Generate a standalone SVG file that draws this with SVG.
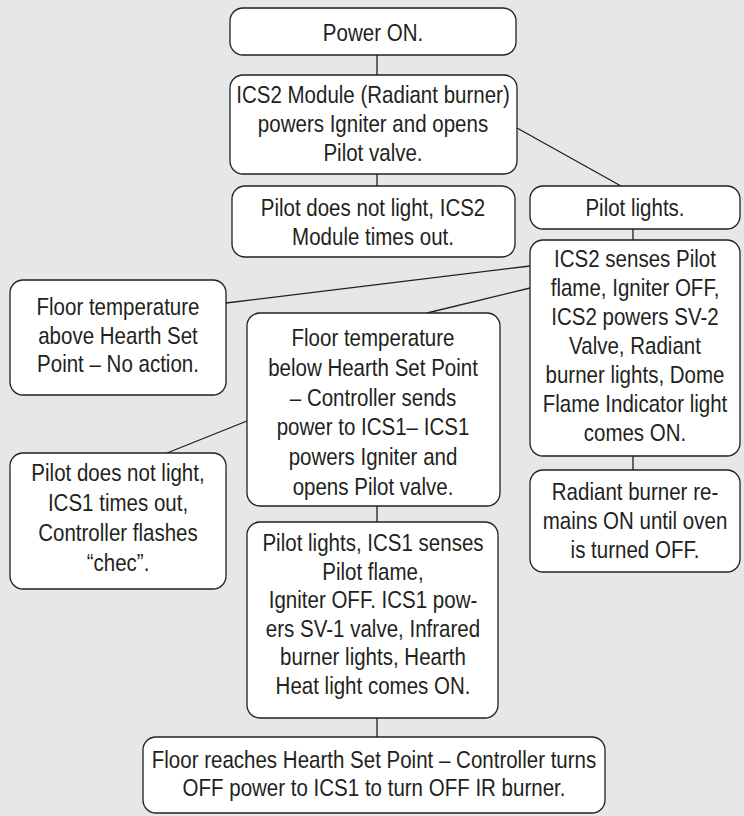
<svg xmlns="http://www.w3.org/2000/svg" width="744" height="816" viewBox="0 0 744 816">
<style>
.bx{fill:#ffffff;stroke:#231f20;stroke-width:1.3}
.t{font-family:"Liberation Sans",Arial,sans-serif;font-size:24px;fill:#231f20;text-anchor:middle}
.c line{stroke:#231f20;stroke-width:1.3}
</style>
<rect x="0" y="0" width="744" height="816" fill="#e6e7e8"/>
<g class="c" id="connectors">
<line x1="377" y1="55" x2="377" y2="75"/>
<line x1="377" y1="174" x2="377" y2="186"/>
<line x1="517" y1="128" x2="621" y2="186"/>
<line x1="633" y1="229" x2="633" y2="240"/>
<line x1="226" y1="303" x2="530" y2="266"/>
<line x1="427" y1="313" x2="530" y2="288"/>
<line x1="247" y1="421" x2="167" y2="453"/>
<line x1="633" y1="456" x2="633" y2="470"/>
<line x1="377" y1="506" x2="377" y2="522"/>
<line x1="377" y1="718" x2="377" y2="737"/>
</g>
<g id="n1"><rect class="bx" x="230" y="8" width="286" height="47" rx="13"/>
<text class="t" transform="translate(373 0) scale(0.855 1)" x="0" y="41">Power ON.</text></g>
<g id="n2"><rect class="bx" x="230" y="75" width="287" height="99" rx="13"/>
<text class="t" transform="translate(373 0) scale(0.855 1)"><tspan x="0" y="103">ICS2 Module (Radiant burner)</tspan><tspan x="0" y="132">powers Igniter and opens</tspan><tspan x="0" y="161">Pilot valve.</tspan></text></g>
<g id="n3"><rect class="bx" x="232" y="186" width="283" height="71" rx="13"/>
<text class="t" transform="translate(373 0) scale(0.855 1)"><tspan x="0" y="216">Pilot does not light, ICS2</tspan><tspan x="0" y="245">Module times out.</tspan></text></g>
<g id="n4"><rect class="bx" x="530" y="186" width="210" height="43" rx="13"/>
<text class="t" transform="translate(635 0) scale(0.855 1)" x="0" y="216">Pilot lights.</text></g>
<g id="n5"><rect class="bx" x="530" y="240" width="210" height="216" rx="13"/>
<text class="t" transform="translate(635 0) scale(0.855 1)"><tspan x="0" y="267">ICS2 senses Pilot</tspan><tspan x="0" y="296">flame, Igniter OFF,</tspan><tspan x="0" y="325">ICS2 powers SV-2</tspan><tspan x="0" y="354">Valve, Radiant</tspan><tspan x="0" y="383">burner lights, Dome</tspan><tspan x="0" y="412">Flame Indicator light</tspan><tspan x="0" y="441">comes ON.</tspan></text></g>
<g id="n6"><rect class="bx" x="530" y="470" width="210" height="102" rx="13"/>
<text class="t" transform="translate(635 0) scale(0.855 1)"><tspan x="0" y="500">Radiant burner re-</tspan><tspan x="0" y="529">mains ON until oven</tspan><tspan x="0" y="558">is turned OFF.</tspan></text></g>
<g id="n7"><rect class="bx" x="10" y="280" width="216" height="115" rx="13"/>
<text class="t" transform="translate(118 0) scale(0.855 1)"><tspan x="0" y="315">Floor temperature</tspan><tspan x="0" y="344">above Hearth Set</tspan><tspan x="0" y="372">Point – No action.</tspan></text></g>
<g id="n8"><rect class="bx" x="247" y="313" width="253" height="193" rx="13"/>
<text class="t" transform="translate(373 0) scale(0.855 1)"><tspan x="0" y="346">Floor temperature</tspan><tspan x="0" y="376">below Hearth Set Point</tspan><tspan x="0" y="406">– Controller sends</tspan><tspan x="0" y="435">power to ICS1– ICS1</tspan><tspan x="0" y="465">powers Igniter and</tspan><tspan x="0" y="495">opens Pilot valve.</tspan></text></g>
<g id="n9"><rect class="bx" x="10" y="453" width="216" height="136" rx="13"/>
<text class="t" transform="translate(118 0) scale(0.855 1)"><tspan x="0" y="481">Pilot does not light,</tspan><tspan x="0" y="511">ICS1 times out,</tspan><tspan x="0" y="541">Controller flashes</tspan><tspan x="0" y="571">“chec”.</tspan></text></g>
<g id="n10"><rect class="bx" x="247" y="522" width="251" height="196" rx="13"/>
<text class="t" transform="translate(373 0) scale(0.855 1)"><tspan x="0" y="551">Pilot lights, ICS1 senses</tspan><tspan x="0" y="580">Pilot flame,</tspan><tspan x="0" y="608">Igniter OFF. ICS1 pow-</tspan><tspan x="0" y="637">ers SV-1 valve, Infrared</tspan><tspan x="0" y="665">burner lights, Hearth</tspan><tspan x="0" y="694">Heat light comes ON.</tspan></text></g>
<g id="n11"><rect class="bx" x="143" y="737" width="462" height="76" rx="13"/>
<text class="t" transform="translate(374 0) scale(0.855 1)"><tspan x="0" y="768">Floor reaches Hearth Set Point – Controller turns</tspan><tspan x="0" y="796">OFF power to ICS1 to turn OFF IR burner.</tspan></text></g>
</svg>
